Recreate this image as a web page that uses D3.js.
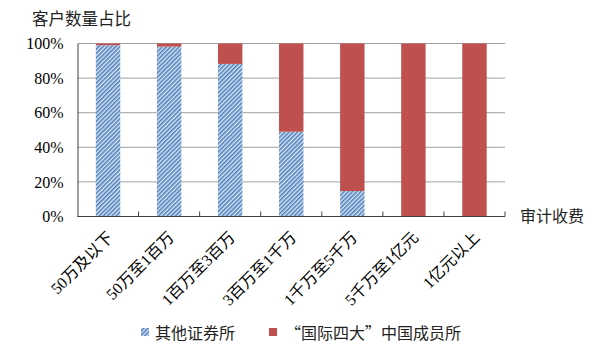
<!DOCTYPE html>
<html><head><meta charset="utf-8">
<script src="https://cdn.jsdelivr.net/npm/d3@7"></script>
<style>body{margin:0;background:#fff}</style>
</head><body>
<svg id="c" width="605" height="360"></svg>
<script>
const categories = ["50万及以下","50万至1百万","1百万至3百万","3百万至1千万","1千万至5千万","5千万至1亿元","1亿元以上"];
const otherFirms = [99, 98.2, 88.2, 49, 14.7, 0, 0];
const big4 = [1, 1.8, 11.8, 51, 85.3, 100, 100];
const yTicks = [0, 20, 40, 60, 80, 100];
const seriesNames = ["其他证券所", "“国际四大”中国成员所"];

const svg = d3.select("#c");
const m = {l: 77.5, r: 505, t: 43.5, b: 216.5};
const x = d3.scaleBand().domain(categories).range([m.l, m.r]).paddingInner(0.6).paddingOuter(0.3);
const xb = d3.scaleBand().domain(categories).range([m.l, m.r]);
const y = d3.scaleLinear().domain([0, 100]).range([m.b, m.t]);
const cjk = "'Noto Sans CJK SC', 'Noto Sans', sans-serif";
const serif = "'Liberation Serif', 'Noto Sans CJK SC', serif";

const defs = svg.append("defs");
const pat = defs.append("pattern").attr("id","hatch").attr("patternUnits","userSpaceOnUse")
  .attr("width",3).attr("height",3).attr("patternTransform","rotate(45)");
pat.append("rect").attr("width",3).attr("height",3).attr("fill","#dce6f4");
pat.append("rect").attr("width",1.6).attr("height",3).attr("fill","#4f81bd");

// gridlines
svg.append("g").selectAll("line").data(yTicks.filter(d=>d>0)).join("line")
  .attr("x1", m.l).attr("x2", m.r).attr("y1", d=>y(d)).attr("y2", d=>y(d))
  .attr("stroke", "#a0a0a0").attr("stroke-width", 1);

// bars
const g = svg.append("g");
g.selectAll("rect.o").data(categories).join("rect").attr("class","o")
  .attr("x", d=>x(d)).attr("width", x.bandwidth())
  .attr("y", (d,i)=>y(otherFirms[i])).attr("height", (d,i)=>y(0)-y(otherFirms[i]))
  .attr("fill", "url(#hatch)");
g.selectAll("rect.b").data(categories).join("rect").attr("class","b")
  .attr("x", d=>x(d)).attr("width", x.bandwidth())
  .attr("y", (d,i)=>y(otherFirms[i]+big4[i])).attr("height", (d,i)=>y(otherFirms[i])-y(otherFirms[i]+big4[i]))
  .attr("fill", "#c0504d");

// y axis
const ya = svg.append("g").attr("transform",`translate(${m.l},0)`)
  .call(d3.axisLeft(y).tickValues(yTicks).tickFormat(d=>d+"%").tickSize(0).tickPadding(14));
ya.select(".domain").attr("stroke","#404040");
ya.selectAll("text").attr("font-family", serif).attr("font-size", 16).attr("fill","#000");

// x axis
const xa = svg.append("g").attr("transform",`translate(0,${m.b})`);
xa.append("line").attr("x1", m.l).attr("x2", m.r).attr("stroke","#404040");
const bounds = categories.map(c=>xb(c)).slice(1).concat([m.r]);
xa.selectAll("line.t").data(bounds).join("line").attr("class","t")
  .attr("x1", d=>d).attr("x2", d=>d).attr("y1", 0).attr("y2", -5).attr("stroke","#404040");
xa.selectAll("text").data(categories).join("text")
  .attr("transform", d=>`translate(${xb(d)+xb.bandwidth()/2+6},${22}) rotate(-45)`)
  .attr("text-anchor","end").attr("font-family", serif).attr("font-size", 16).attr("fill","#000")
  .text(d=>d);

// titles
svg.append("text").attr("x", 32).attr("y", 25).attr("font-family", cjk).attr("font-size", 16.5).attr("fill","#222").text("客户数量占比");
svg.append("text").attr("x", 520).attr("y", 222).attr("font-family", cjk).attr("font-size", 16).attr("fill","#222").text("审计收费");

// legend
const lg = svg.append("g");
lg.append("rect").attr("x",141).attr("y",328).attr("width",8).attr("height",8).attr("fill","url(#hatch)");
lg.append("text").attr("x",155).attr("y",338.5).attr("font-family", cjk).attr("font-size", 16).attr("fill","#222").text(seriesNames[0]);
lg.append("rect").attr("x",269).attr("y",328).attr("width",8).attr("height",8).attr("fill","#c0504d");
lg.append("text").attr("x",285).attr("y",338.5).attr("font-family", cjk).attr("font-size", 16).attr("fill","#222").text(seriesNames[1]);
</script>
</body></html>
